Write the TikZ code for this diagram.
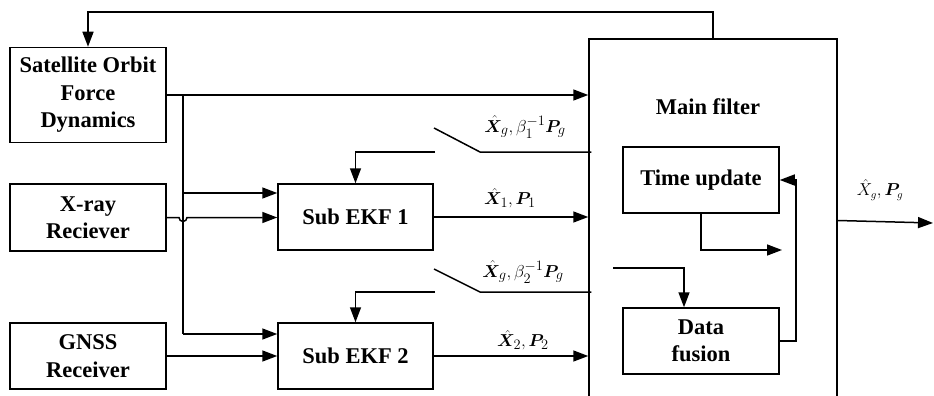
\documentclass[tikz,border=0pt]{standalone}
\usepackage{amsmath,bm}
\usepackage{fontspec}
\setmainfont{Liberation Serif}
\usetikzlibrary{arrows.meta,positioning,calc}
\begin{document}
\begin{tikzpicture}[x=1pt,y=-1pt,
  line width=1.5pt,
  box/.style={draw,line width=1.5pt,align=center,inner sep=0pt,
    font=\fontsize{22.5}{27.5}\selectfont\bfseries},
  arr/.style={-{Triangle[length=15pt,width=11pt]}},
  lab/.style={inner sep=0pt,font=\fontsize{19}{21}\selectfont},
]
\useasboundingbox (0,0) rectangle (934,396);
% nodes
\node[box,minimum width=156pt,minimum height=95pt] (sat) at (88,95) {Satellite Orbit\\Force\\Dynamics};
\node[box,minimum width=156pt,minimum height=67pt] (xray) at (88,217.5) {X-ray\\Reciever};
\node[box,minimum width=156pt,minimum height=66pt] (gnss) at (88,356) {GNSS\\Receiver};
\node[box,minimum width=155pt,minimum height=66pt] (ekf1) at (355.5,217) {Sub EKF 1};
\node[box,minimum width=155pt,minimum height=66pt] (ekf2) at (355.5,356) {Sub EKF 2};
\node[box,minimum width=248pt,minimum height=363pt] (mf) at (713,220.5) {};
\node[inner sep=0pt,font=\fontsize{22.5}{27.5}\selectfont\bfseries] (mft) at (708,107) {Main filter};
\node[box,minimum width=156pt,minimum height=66pt] (tu) at (701,180) {Time update};
\node[box,minimum width=156pt,minimum height=66pt] (df) at (701,341) {Data\\fusion};
% labels
\node[lab] (l1) at (525,127) {$\hat{\bm{X}}_{g},\beta_{1}^{-1}\bm{P}_{g}$};
\node[lab] (l2) at (510,198) {$\hat{\bm{X}}_{1},\bm{P}_{1}$};
\node[lab] (l3) at (523,272) {$\hat{\bm{X}}_{g},\beta_{2}^{-1}\bm{P}_{g}$};
\node[lab] (l4) at (523,340) {$\hat{\bm{X}}_{2},\bm{P}_{2}$};
\node[inner sep=0pt,font=\fontsize{16}{18}\selectfont] (l5) at (880,190) {$\hat{X}_{g},\bm{P}_{g}$};
% coordinates
\coordinate (br) at (183,95);
\coordinate (top) at (713,12);
\coordinate (s1in) at (480,152);
\coordinate (s1open) at (434,128);
\coordinate (s1fb) at (435,152);
\coordinate (s2in) at (480,292);
\coordinate (s2open) at (434,269);
\coordinate (s2fb) at (435,292);
\coordinate (tuend) at (782,250);
\coordinate (dfsrc) at (613,268);
\coordinate (out) at (933,223);
% connectors
\draw[arr] (mf.north) -- (top) -| (sat.north);
\draw[arr] (sat.east) -- (sat.east -| mf.west);
\draw (br) -- (183,334);
\draw[arr] (183,193) -- (183,193 -| ekf1.west);
\draw[arr] (183,334) -- (183,334 -| ekf2.west);
\draw[arr] (xray.east) -- (179,217.5) arc[start angle=180,end angle=360,radius=4pt] -- (xray.east -| ekf1.west);
\draw[arr] (gnss.east) -- (ekf2.west);
\draw[arr] (ekf1.east) -- (ekf1.east -| mf.west);
\draw[arr] (ekf2.east) -- (ekf2.east -| mf.west);
\draw ([xshift=3pt]s1in -| mf.west) -- (s1in) -- (s1open);
\draw[arr] (s1fb) -| (ekf1.north);
\draw ([xshift=3pt]s2in -| mf.west) -- (s2in) -- (s2open);
\draw[arr] (s2fb) -| (ekf2.north);
\draw[arr] (tu.south) |- (tuend);
\draw[arr] (dfsrc) -| ([xshift=-17pt]df.north);
\draw[arr] (df.east) -- (796,341) |- (tu.east);
\draw[arr] (mf.east) -- (out);
\end{tikzpicture}
\end{document}
